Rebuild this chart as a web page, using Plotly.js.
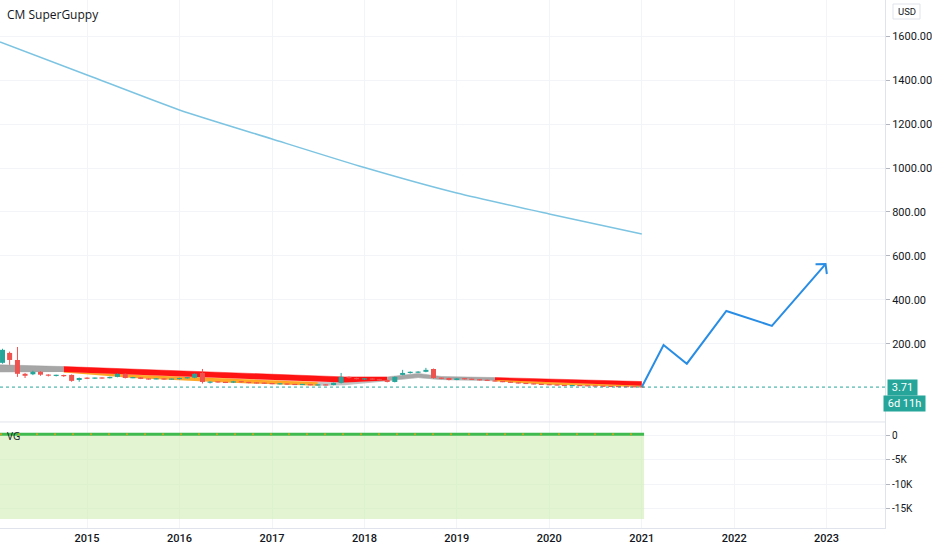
<!DOCTYPE html>
<html>
<head>
<meta charset="utf-8">
<script src="https://cdn.plot.ly/plotly-3.0.1.min.js"></script>
<style>
  html, body { margin: 0; padding: 0; background: #ffffff; }
  #chart { width: 932px; height: 550px; }
</style>
</head>
<body>
<div id="chart"></div>
<script>
// Colours roughly matching the TradingView light theme
const COLORS = {
    TEXT: '#131722',
    GRID: '#f2f4f8',
    BORDER: '#e0e3eb',
    UP: '#26a69a',
    DOWN: '#ef5350',
    RED_BAND: 'rgba(255, 0, 0, 0.92)',
    GREY_BAND: 'rgba(150, 150, 150, 0.85)',
    ORANGE_BAND: 'rgba(255, 152, 0, 0.85)',
    LIGHT_GREY_BAND: 'rgba(170, 170, 170, 0.7)',
    CURVE: '#7cc4e2',
    ARROW: '#2a8de4',
    VG_FILL: 'rgba(214, 240, 190, 0.7)',
    VG_LINE: '#3fba4f',
    VG_ORANGE: '#f39c12'
};

// Visible window
const X_START = '2014-01-22';
const X_END = '2023-08-20';
const MAIN_RANGE = [-155, 1764];
const VG_RANGE = [-19030, 2780];
const PANE_SPLIT = 0.2008;

// Time axis
const yearTicks = ['2015-01-01', '2016-01-01', '2017-01-01', '2018-01-01', '2019-01-01',
                   '2020-01-01', '2021-01-01', '2022-01-01', '2023-01-01'];
const yearLabels = ['2015', '2016', '2017', '2018', '2019', '2020', '2021', '2022', '2023'];

// Price axis
const priceTicks = [200, 400, 600, 800, 1000, 1200, 1400, 1600];
const priceLabels = ['200.00', '400.00', '600.00', '800.00', '1000.00', '1200.00', '1400.00', '1600.00'];
const vgTicks = [0, -5000, -10000, -15000];
const vgLabels = ['0', '-5K', '-10K', '-15K'];

// Monthly candles, Feb 2014 .. Jan 2021
const candleStart = [2014, 2];
const candleOpen = [
    114, 159, 127, 64, 62, 73, 60, 56, 58, 59, 36,
    45, 43, 46, 44, 50, 64, 45, 48, 41, 40, 42, 39,
    40, 44, 46, 68, 24, 28, 26, 24, 30, 26, 23, 22,
    21, 18, 19, 16, 15, 16, 13, 14, 13, 23, 50, 45,
    40, 42, 38, 36, 27, 59, 68, 70, 73, 86, 45, 45,
    36, 43, 40, 38, 36, 33, 30, 27, 24, 21, 19, 17,
    15, 14, 12, 10, 11, 10, 9, 8, 7, 6, 5.5, 5,
    4.5
];
const candleHigh = [
    178, 165, 186, 68, 78, 76, 62, 60, 60, 61, 47,
    48, 47, 48, 51, 66, 66, 50, 49, 43, 44, 43, 42,
    46, 49, 66, 86, 30, 29, 27, 32, 31, 27, 25, 24,
    22, 20, 20, 18, 17, 17, 15, 16, 24, 68, 52, 47,
    43, 44, 41, 38, 52, 82, 75, 76, 91, 88, 47, 46,
    45, 44, 42, 40, 38, 35, 31, 28, 25, 22, 20, 18,
    17, 15, 13, 12, 12, 11, 10, 9, 8, 7, 6, 5.5,
    5
];
const candleLow = [
    110, 105, 50, 45, 58, 55, 52, 52, 50, 28, 28,
    40, 41, 42, 43, 48, 43, 44, 40, 38, 39, 37, 38,
    38, 42, 44, 20, 20, 24, 22, 22, 24, 21, 20, 19,
    17, 16, 15, 14, 13, 12, 11, 12, 12, 20, 42, 38,
    36, 37, 34, 25, 25, 57, 65, 68, 71, 42, 40, 34,
    35, 38, 37, 34, 32, 29, 26, 23, 20, 18, 16, 14,
    13, 11, 8, 9, 9, 8, 7, 6, 5, 5, 4.5, 4,
    3.5
];
const candleClose = [
    173, 127, 64, 55, 73, 60, 56, 58, 54, 32, 45,
    43, 46, 44, 50, 64, 45, 48, 41, 40, 42, 39, 41,
    45, 48, 64, 27, 28, 26, 24, 30, 26, 23, 22, 21,
    18, 19, 16, 15, 16, 13, 14, 13, 23, 50, 45, 40,
    42, 38, 36, 27, 50, 68, 73, 73, 82, 45, 43, 36,
    43, 40, 38, 36, 33, 30, 27, 24, 21, 19, 17, 15,
    14, 12, 10, 11, 10, 9, 8, 7, 6, 5.5, 5, 4.5,
    3.71
];
const lastPrice = 3.71;

// Guppy ribbons (slow band top / bottom, fast band bottom)
const ribbonDates = ['2014-01-22', '2014-10-01', '2015-07-01', '2016-07-01', '2017-07-01', '2017-10-15',
                     '2018-04-01', '2018-08-01', '2018-11-01', '2019-06-01', '2020-01-01', '2021-01-01'];
const slowTop = [105, 97, 85, 69, 54, 50, 50, 66, 52, 47, 40, 29];
const slowBottom = [71, 72, 60, 43, 26, 24, 34, 47, 38, 36, 26, 10];
const fastBottom = [69, 70, 45, 24, 10, 12, 30, 45, 36, 30, 14, 4];
// [first index, last index, colour key]
const slowSegments = [[0, 1, 'GREY_BAND'], [1, 6, 'RED_BAND'], [6, 9, 'GREY_BAND'], [9, 11, 'RED_BAND']];
const fastSegments = [[1, 4, 'ORANGE_BAND'], [4, 9, 'LIGHT_GREY_BAND'], [9, 11, 'ORANGE_BAND']];

// Long decaying curve
const curveDates = ['2014-01-22', '2015-01-01', '2016-01-01', '2017-01-01', '2018-01-01',
                    '2019-01-01', '2020-01-01', '2021-01-01'];
const curveValues = [1573, 1423, 1264, 1132, 1002, 886, 791, 700];

// Hand drawn projection
const projDates = ['2021-01-01', '2021-03-28', '2021-06-28', '2021-12-01', '2022-05-30', '2022-12-28'];
const projValues = [3.71, 195, 110, 350, 282, 563];

// VG pane
const vgDates = ['2014-01-22', '2015-01-01', '2016-01-01', '2017-01-01', '2018-01-01',
                 '2019-01-01', '2020-01-01', '2021-01-10'];
const vgLine = [250, 250, 250, 250, 250, 250, 250, 250];
const vgFloor = [-17180, -17180, -17180, -17180, -17180, -17180, -17180, -17180];

// Plot geometry (px) used for the arrow head and candle bodies
const PLOT_W = 932 - 47;
const PLOT_H = 550 - 22;
const MAIN_H = PLOT_H * (1 - PANE_SPLIT);
const UNITS_PER_PX = (MAIN_RANGE[1] - MAIN_RANGE[0]) / MAIN_H;

function monthDates(start, count) {
    const out = [];
    for (let i = 0; i < count; i++) {
        const y = start[0] + Math.floor((start[1] - 1 + i) / 12);
        const m = (start[1] - 1 + i) % 12 + 1;
        out.push(y + '-' + String(m).padStart(2, '0') + '-01');
    }
    return out;
}

function bandTraces(dates, upper, lower, segments) {
    const traces = [];
    segments.forEach(([a, b, key]) => {
        const xs = dates.slice(a, b + 1);
        traces.push({
            x: xs, y: lower.slice(a, b + 1), type: 'scatter', mode: 'lines',
            line: { width: 0, color: COLORS[key] }, hoverinfo: 'skip'
        });
        traces.push({
            x: xs, y: upper.slice(a, b + 1), type: 'scatter', mode: 'lines',
            fill: 'tonexty', fillcolor: COLORS[key],
            line: { width: 0.5, color: COLORS[key] }, hoverinfo: 'skip'
        });
    });
    return traces;
}

// Candles as scatter segments so they sit above the ribbons
function candleTraces(dates, o, h, l, c) {
    const traces = [];
    [[true, COLORS.UP], [false, COLORS.DOWN]].forEach(([up, color]) => {
        const wx = [], wy = [], bx = [], by = [];
        dates.forEach((d, i) => {
            if ((c[i] >= o[i]) !== up) return;
            wx.push(d, d, null); wy.push(l[i], h[i], null);
            let lo = Math.min(o[i], c[i]), hi = Math.max(o[i], c[i]);
            const minBody = 1.2 * UNITS_PER_PX;
            if (hi - lo < minBody) { const mid = (hi + lo) / 2; lo = mid - minBody / 2; hi = mid + minBody / 2; }
            bx.push(d, d, null); by.push(lo, hi, null);
        });
        traces.push({ x: wx, y: wy, type: 'scatter', mode: 'lines',
                      line: { color: color, width: 1 }, hoverinfo: 'skip' });
        traces.push({ x: bx, y: by, type: 'scatter', mode: 'lines',
                      line: { color: color, width: 5 }, hoverinfo: 'skip' });
    });
    return traces;
}

// Open "V" arrow head at the end of the projection, built in pixel space
function arrowHead(dates, values) {
    const t0 = new Date(X_START).getTime(), t1 = new Date(X_END).getTime();
    const pxX = d => (new Date(d).getTime() - t0) / (t1 - t0) * PLOT_W;
    const pxY = v => (MAIN_RANGE[1] - v) / UNITS_PER_PX;
    const toT = px => t0 + px / PLOT_W * (t1 - t0);
    const toV = py => MAIN_RANGE[1] - py * UNITS_PER_PX;
    const n = dates.length;
    const tx = pxX(dates[n - 1]), ty = pxY(values[n - 1]);
    const ang = Math.atan2(ty - pxY(values[n - 2]), tx - pxX(dates[n - 2]));
    const len = 10, spread = 0.85;
    const a1 = ang + Math.PI - spread, a2 = ang + Math.PI + spread;
    return {
        x: [toT(tx + len * Math.cos(a1)), toT(tx), toT(tx + len * Math.cos(a2))],
        y: [toV(ty + len * Math.sin(a1)), toV(ty), toV(ty + len * Math.sin(a2))]
    };
}

const candleDates = monthDates(candleStart, candleOpen.length);
const head = arrowHead(projDates, projValues);

const data = [
    // VG pane
    { x: vgDates, y: vgFloor, type: 'scatter', mode: 'lines', yaxis: 'y2',
      line: { width: 0, color: COLORS.VG_FILL }, hoverinfo: 'skip' },
    { x: vgDates, y: vgLine, type: 'scatter', mode: 'lines', yaxis: 'y2',
      fill: 'tonexty', fillcolor: COLORS.VG_FILL, line: { width: 3, color: COLORS.VG_LINE }, hoverinfo: 'skip' },
    { x: vgDates, y: vgLine, type: 'scatter', mode: 'lines', yaxis: 'y2',
      line: { width: 2, color: COLORS.VG_ORANGE, dash: '2px,16px' }, opacity: 0.7, hoverinfo: 'skip' },

    // ribbons
    ...bandTraces(ribbonDates, slowBottom, fastBottom, fastSegments),
    ...bandTraces(ribbonDates, slowTop, slowBottom, slowSegments),

    // candles
    ...candleTraces(candleDates, candleOpen, candleHigh, candleLow, candleClose),

    // decaying curve
    { x: curveDates, y: curveValues, type: 'scatter', mode: 'lines',
      line: { color: COLORS.CURVE, width: 1.5, shape: 'spline', smoothing: 0.6 }, hoverinfo: 'skip' },

    // projection
    { x: projDates, y: projValues, type: 'scatter', mode: 'lines',
      line: { color: COLORS.ARROW, width: 2 }, hoverinfo: 'skip' },
    { x: head.x, y: head.y, type: 'scatter', mode: 'lines',
      line: { color: COLORS.ARROW, width: 2 }, hoverinfo: 'skip' }
];

const tickFont = { family: 'Roboto, "Noto Sans", sans-serif', size: 11, color: COLORS.TEXT };

const layout = {
    width: 932,
    height: 550,
    margin: { l: 0, r: 47, t: 0, b: 22, pad: 0 },
    paper_bgcolor: '#ffffff',
    plot_bgcolor: '#ffffff',
    showlegend: false,
    font: tickFont,
    xaxis: {
        type: 'date',
        range: [X_START, X_END],
        tickvals: yearTicks,
        ticktext: yearLabels,
        tickfont: { ...tickFont, weight: 500 },
        gridcolor: COLORS.GRID,
        showline: true,
        linecolor: COLORS.BORDER,
        zeroline: false,
        ticks: '',
        anchor: 'y2',
        fixedrange: true
    },
    yaxis: {
        domain: [PANE_SPLIT, 1],
        range: MAIN_RANGE,
        side: 'right',
        tickvals: priceTicks,
        ticktext: priceLabels,
        tickfont: tickFont,
        gridcolor: COLORS.GRID,
        showline: true,
        linecolor: COLORS.BORDER,
        ticks: 'outside',
        ticklen: 4,
        tickcolor: '#b2b5be',
        zeroline: false,
        fixedrange: true
    },
    yaxis2: {
        domain: [0, PANE_SPLIT],
        range: VG_RANGE,
        side: 'right',
        tickvals: vgTicks,
        ticktext: vgLabels,
        tickfont: { ...tickFont, size: 10 },
        gridcolor: COLORS.GRID,
        showline: true,
        linecolor: COLORS.BORDER,
        ticks: 'outside',
        ticklen: 4,
        tickcolor: '#b2b5be',
        zeroline: false,
        fixedrange: true
    },
    shapes: [
        // pane separator
        { type: 'line', xref: 'paper', yref: 'paper', x0: 0, x1: 1, y0: PANE_SPLIT, y1: PANE_SPLIT,
          line: { color: COLORS.BORDER, width: 1 } },
        // last price line
        { type: 'line', xref: 'paper', yref: 'y', x0: 0, x1: 1, y0: lastPrice, y1: lastPrice,
          line: { color: COLORS.UP, width: 1, dash: 'dot' } },
        // currency badge
        { type: 'rect', xref: 'paper', yref: 'paper', x0: 893 / PLOT_W, x1: 920 / PLOT_W,
          y0: 1 - 19 / PLOT_H, y1: 1 - 4 / PLOT_H,
          line: { color: COLORS.BORDER, width: 1 }, fillcolor: '#ffffff' }
    ],
    annotations: [
        { text: 'CM SuperGuppy', xref: 'paper', yref: 'paper', x: 0, y: 1, xanchor: 'left', yanchor: 'top',
          xshift: 5, yshift: -4, showarrow: false,
          font: { family: '"Open Sans", "Noto Sans", sans-serif', size: 12, color: COLORS.TEXT } },
        { text: 'VG', xref: 'paper', yref: 'paper', x: 0, y: PANE_SPLIT, xanchor: 'left', yanchor: 'top',
          xshift: 5, yshift: -5, showarrow: false,
          font: { family: '"Open Sans", "Noto Sans", sans-serif', size: 10, color: COLORS.TEXT } },
        { text: 'USD', xref: 'paper', yref: 'paper', x: 906.5 / PLOT_W, y: 1 - 11.5 / PLOT_H,
          xanchor: 'center', yanchor: 'middle', showarrow: false,
          font: { ...tickFont, size: 9.5 } },
        { text: ' 3.71 ', xref: 'paper', yref: 'y', x: 1, y: lastPrice, xanchor: 'left', yanchor: 'middle',
          xshift: 2, showarrow: false, bgcolor: COLORS.UP, borderpad: 1,
          font: { ...tickFont, color: '#ffffff' } },
        { text: ' 6d 11h ', xref: 'paper', yref: 'y', x: 1, y: lastPrice, xanchor: 'left', yanchor: 'middle',
          xshift: -2, yshift: -16, showarrow: false, bgcolor: COLORS.UP, borderpad: 1,
          font: { ...tickFont, color: '#ffffff' } }
    ]
};

Plotly.newPlot('chart', data, layout, { displayModeBar: false, staticPlot: true });
</script>
</body>
</html>
